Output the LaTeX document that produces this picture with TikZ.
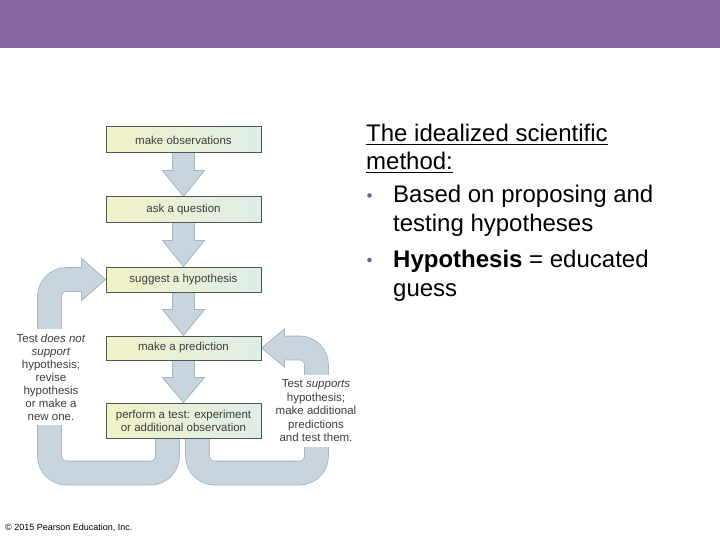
\documentclass[tikz,border=0pt]{standalone}
\usepackage{fontspec}
\setmainfont{Liberation Sans}
\usetikzlibrary{calc,backgrounds}
\pgfdeclarelayer{bottom}
\pgfsetlayers{bottom,background,main}
\definecolor{barpurple}{RGB}{133,102,160}
\definecolor{arrfill}{RGB}{199,213,222}
\definecolor{arrline}{RGB}{165,180,192}
\definecolor{boxleft}{RGB}{241,242,198}
\definecolor{boxright}{RGB}{222,237,232}
\definecolor{boxline}{RGB}{78,86,86}
\definecolor{dtext}{RGB}{62,62,62}
\definecolor{bulletc}{RGB}{92,110,152}
\newcommand\dnarrow[2]{%
  \filldraw[fill=arrfill, draw=arrline, line width=0.8pt]
    ($(#1.south)+(-11,-2)$) -- ($(#1.south)+(-11,17)$) -- ($(#1.south)+(-21,17)$) --
    (#2.north) -- ($(#1.south)+(21,17)$) -- ($(#1.south)+(11,17)$) -- ($(#1.south)+(11,-2)$) -- cycle;}
\begin{document}
\begin{tikzpicture}[x=1pt,y=-1pt,
  stepbox/.style={draw=boxline, line width=1pt, left color=boxleft, right color=boxright,
    minimum width=155pt, minimum height=26pt, inner sep=0pt,
    font=\fontsize{11.5}{13}\selectfont, text=dtext, align=center},
  sidetext/.style={text=dtext, align=center, fill=white, inner xsep=3pt, inner ysep=5pt},
  maintext/.style={anchor=base west, inner sep=0pt, font=\fontsize{24}{28}\selectfont, text=black},
  bandout/.style={line width=24.6pt, draw=arrline, rounded corners=17pt},
  bandin/.style={line width=23pt, draw=arrfill, rounded corners=17pt},
  headline/.style={draw=arrline, line width=0.8pt, line join=miter}]
\useasboundingbox (0,0) rectangle (720,540);
\begin{pgfonlayer}{bottom}
\fill[white] (0,0) rectangle (720,540);
\fill[barpurple] (0,0) rectangle (720,48);
\end{pgfonlayer}

% boxes
\node[stepbox] (obs) at (183.5,140) {make observations};
\node[stepbox] (ask) at (183.5,210) {ask a question};
\node[stepbox, minimum height=25pt] (hyp) at (183.5,279.5) {suggest a hypothesis};
\node[stepbox, minimum height=24pt] (pred) at (183.5,348) {make a prediction};
\node[stepbox, minimum height=35pt] (perf) at (183.5,420.5) {perform a test: experiment\\or additional observation};

\begin{pgfonlayer}{background}
\dnarrow{obs}{ask}
\dnarrow{ask}{hyp}
\dnarrow{hyp}{pred}
\dnarrow{pred}{perf}

% left loop
\coordinate (L0) at ($(perf.south west)+(62,-3)$);
\coordinate (L1) at ($(perf.south west)+(62,34.5)$);
\coordinate (L2) at ($(L1)+(-118,0)$);
\coordinate (L3) at (L2 |- hyp.west);
\coordinate (L4) at ($(hyp.west)+(-24,0)$);
\coordinate (L5) at ($(L4)+(2,0)$);
\draw[bandout] (L0) -- (L1) -- (L2) -- (L3) -- (L5);
\draw[bandin] (L0) -- (L1) -- (L2) -- (L3) -- (L5);
\fill[arrfill] ($(L4)+(0,-21)$) -- (hyp.west) -- ($(L4)+(0,21)$) -- cycle;
\draw[headline] ($(L4)+(0,-11.9)$) -- ($(L4)+(0,-21)$) -- (hyp.west) -- ($(L4)+(0,21)$) -- ($(L4)+(0,11.9)$);

% right loop
\coordinate (R0) at ($(perf.south west)+(92,-3)$);
\coordinate (R1) at ($(perf.south west)+(92,34.5)$);
\coordinate (R2) at ($(R1)+(119,0)$);
\coordinate (R3) at (R2 |- pred.east);
\coordinate (R4) at ($(pred.east)+(23,0)$);
\coordinate (R5) at ($(R4)+(-2,0)$);
\draw[bandout] (R0) -- (R1) -- (R2) -- (R3) -- (R5);
\draw[bandin] (R0) -- (R1) -- (R2) -- (R3) -- (R5);
\fill[arrfill] ($(R4)+(0,-19)$) -- (pred.east) -- ($(R4)+(0,19)$) -- cycle;
\draw[headline] ($(R4)+(0,-11.9)$) -- ($(R4)+(0,-19)$) -- (pred.east) -- ($(R4)+(0,19)$) -- ($(R4)+(0,11.9)$);
\end{pgfonlayer}

% side texts
\node[sidetext, font=\fontsize{11.5}{13}\selectfont] (notsup) at (51,377)
  {Test \textit{does not}\\\textit{support}\\hypothesis;\\revise\\hypothesis\\or make a\\new one.};
\node[sidetext, font=\fontsize{11.5}{13.5}\selectfont] (sup) at (316,411)
  {Test \textit{supports}\\hypothesis;\\make additional\\predictions\\and test them.};

% main text
\node[maintext] (t1) at (366,141.5) {The idealized scientific};
\node[maintext] (t2) at (366,170) {method:};
\draw[line width=1.3pt] ($(t1.base west)+(0,2.8)$) -- ($(t1.base east)+(0,2.8)$);
\draw[line width=1.3pt] ($(t2.base west)+(0,2.8)$) -- ($(t2.base east)+(0,2.8)$);
\fill[bulletc] (369.5,195.5) circle (2.3);
\node[maintext] (b1a) at (393,203) {Based on proposing and};
\node[maintext] (b1b) at (393,232) {testing hypotheses};
\fill[bulletc] (369.5,260) circle (2.3);
\node[maintext] (b2a) at (393,267) {\textbf{Hypothesis} = educated};
\node[maintext] (b2b) at (393,296) {guess};

\node[anchor=base west, inner sep=0pt, font=\fontsize{9}{10}\selectfont, text=black] (copy) at (5,530) {© 2015 Pearson Education, Inc.};
\end{tikzpicture}
\end{document}
